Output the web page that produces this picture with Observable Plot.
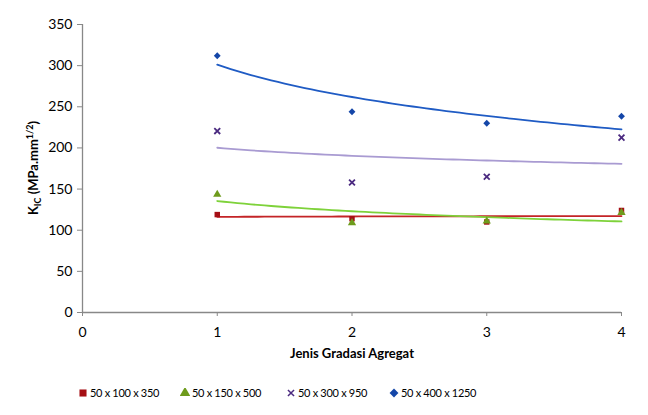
<!DOCTYPE html>
<html><head><meta charset="utf-8">
<script src="https://cdn.jsdelivr.net/npm/d3@7"></script>
<script src="https://cdn.jsdelivr.net/npm/@observablehq/plot@0.6"></script>
<style>
body{margin:0;background:#fff;font-family:Lato,"Open Sans",sans-serif;}
#wrap{position:relative;width:648px;height:415px;}
#legend{position:absolute;left:0;top:386px;width:648px;height:20px;font-size:11px;letter-spacing:-0.3px;color:#000;}
.li{position:absolute;top:0;white-space:nowrap;display:flex;align-items:center;}
.li svg{margin-right:2px;}
</style></head><body>
<div id="wrap"><div id="chart"></div><div id="legend"></div></div>
<script>
const gradasi = [1, 2, 3, 4];
const seriesNames = ["50 x 100 x 350", "50 x 150 x 500", "50 x 300 x 950", "50 x 400 x 1250"];
const s100 = [119, 114, 110, 124];
const s150 = [143.5, 109, 111, 121.5];
const s300 = [220.5, 158, 165, 212.5];
const s400 = [312, 244, 230, 238.5];
const xTicks = [0, 1, 2, 3, 4];
const yTicks = [0, 50, 100, 150, 200, 250, 300, 350];
const markerColors = ["#A50F15", "#6E9B1C", "#4B2A80", "#1446A8"];
const lineColors = ["#C42427", "#7ED23A", "#A99BD2", "#1F5BC4"];
const symbols = ["square", "triangle", "times", "diamond2"];

const allVals = [s100, s150, s300, s400];
const points = [];
allVals.forEach((vals, i) => vals.forEach((v, j) => points.push({x: gradasi[j], y: v, s: seriesNames[i]})));

// Excel-style logarithmic trendline fitted from the data
function logFit(xs, ys) {
  const lx = xs.map(Math.log);
  const mx = d3.mean(lx), my = d3.mean(ys);
  let sxy = 0, sxx = 0;
  lx.forEach((l, i) => { sxy += (l - mx) * (ys[i] - my); sxx += (l - mx) ** 2; });
  const b = sxy / sxx, a = my - b * mx;
  return x => a + b * Math.log(x);
}
const trend = [];
allVals.forEach((vals, i) => {
  const f = logFit(gradasi, vals);
  for (let k = 0; k <= 60; k++) { const x = 1 + 3 * k / 60; trend.push({x, y: f(x), s: seriesNames[i]}); }
});
const idx = d => seriesNames.indexOf(d.s);

const plot = Plot.plot({
  width: 648, height: 375,
  marginTop: 24, marginBottom: 63, marginLeft: 82, marginRight: 27,
  style: {fontFamily: "Lato, 'Open Sans', sans-serif", fontSize: "14px", color: "#000", background: "#fff"},
  x: {domain: [0, 4], label: null},
  y: {domain: [0, 350], label: null},
  marks: [
    Plot.axisY({ticks: yTicks, tickSize: 5, tickPadding: 5, stroke: "#888", fontSize: 14, tickFormat: d3.format("d"), label: null}),
    Plot.axisX({ticks: xTicks, tickSize: 4, tickPadding: 11, stroke: "#888", fontSize: 14, tickFormat: d3.format("d"), label: null}),
    Plot.ruleX([0], {stroke: "#888", strokeWidth: 1.3}),
    Plot.ruleY([0], {stroke: "#888", strokeWidth: 1.3}),
    Plot.line(trend, {x: "x", y: "y", z: "s", stroke: d => lineColors[idx(d)], strokeWidth: 1.8}),
    Plot.dot(points, {x: "x", y: "y",
      fill: d => symbols[idx(d)] === "times" ? "none" : markerColors[idx(d)],
      stroke: d => symbols[idx(d)] === "times" ? markerColors[idx(d)] : "none",
      strokeWidth: 1.8,
      symbol: d => symbols[idx(d)], r: d => symbols[idx(d)] === "times" ? 3.5 : 4.3}),
    Plot.text(["Jenis Gradasi Agregat"], {frameAnchor: "bottom", dy: 45, fontWeight: "bold", fontSize: 13})
  ]
});
plot.style.display = "block";
document.getElementById("chart").appendChild(plot);

// y-axis title with subscript/superscript
const svg = d3.select(plot);
const t = svg.append("text")
  .attr("transform", "translate(38,168) rotate(-90)")
  .attr("text-anchor", "middle")
  .attr("font-weight", "bold").attr("font-size", 13).attr("fill", "#000")
  .attr("font-family", "Lato, 'Open Sans', sans-serif");
t.append("tspan").text("K");
t.append("tspan").attr("font-size", 9).attr("dy", 3).text("IC");
t.append("tspan").attr("dy", -3).text(" (MPa.mm");
t.append("tspan").attr("font-size", 9).attr("dy", -5).text("1/2");
t.append("tspan").attr("dy", 5).text(")");

// legend
const legendX = [78, 180, 286, 389];
const leg = document.getElementById("legend");
seriesNames.forEach((n, i) => {
  const div = document.createElement("div");
  div.className = "li";
  div.style.left = legendX[i] + "px";
  const sw = d3.create("svg").attr("width", 10).attr("height", 10);
  const sym = d3.symbol().type({square: d3.symbolSquare, triangle: d3.symbolTriangle, times: d3.symbolTimes, diamond2: d3.symbolDiamond2}[symbols[i]]).size(symbols[i] === "times" ? 26 : 50);
  sw.append("path").attr("transform", "translate(5,5)").attr("d", sym())
    .attr("fill", symbols[i] === "times" ? "none" : markerColors[i])
    .attr("stroke", symbols[i] === "times" ? markerColors[i] : "none").attr("stroke-width", 1.5);
  div.appendChild(sw.node());
  const sp = document.createElement("span"); sp.textContent = n; div.appendChild(sp);
  leg.appendChild(div);
});
</script>
</body></html>
